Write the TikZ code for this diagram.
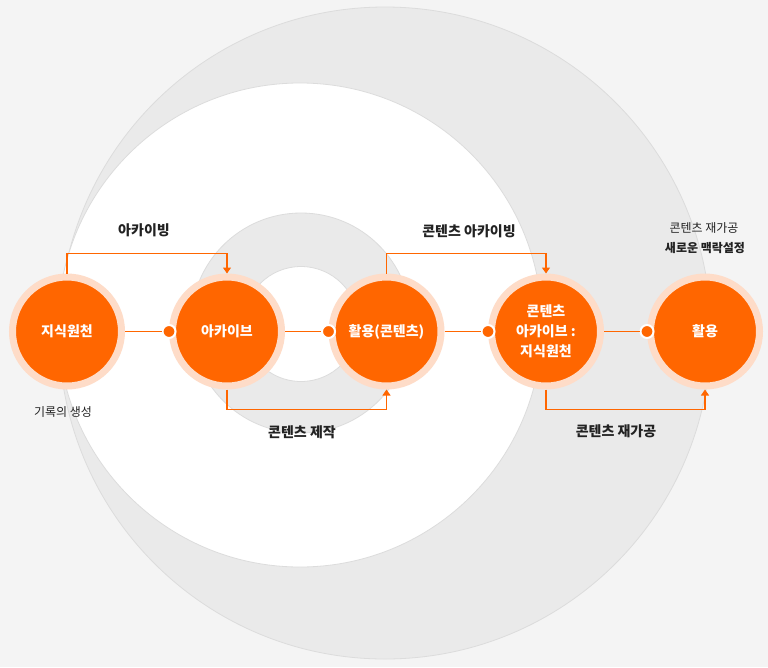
\documentclass[tikz,border=0pt]{standalone}
\usepackage{fontspec}
\setmainfont{Noto Sans CJK KR}
\usetikzlibrary{arrows.meta}
\definecolor{bgc}{HTML}{F4F4F4}
\definecolor{ringc}{HTML}{EAEAEA}
\definecolor{edgec}{HTML}{DCDCDC}
\definecolor{org}{HTML}{FF6600}
\definecolor{peach}{HTML}{FEDCC8}
\definecolor{txt}{HTML}{222222}
\tikzset{
  stage/.style={circle, fill=org, draw=peach, line width=7pt, minimum size=109pt, inner sep=0pt,
    text=white, align=center, font=\fontsize{14}{20}\selectfont\bfseries},
  joint/.style={circle, fill=org, draw=white, line width=2pt, minimum size=13pt, inner sep=0pt},
  link/.style={draw=org, line width=1.1pt},
  flow/.style={draw=org, line width=1.1pt, -{Triangle[width=8pt,length=6pt]}},
  biglabel/.style={text=txt, font=\fontsize{14}{18}\selectfont\bfseries},
  smalllabel/.style={text=txt, font=\fontsize{12}{20}\selectfont},
  smallbold/.style={text=txt, font=\fontsize{12}{20}\selectfont\bfseries}
}
\begin{document}
\begin{tikzpicture}[x=1pt,y=-1pt]
\useasboundingbox (0,0) rectangle (768,667);
\fill[bgc] (0,0) rectangle (768,667);
% background circles
\filldraw[fill=ringc, draw=edgec, line width=0.8pt] (385,333) circle[radius=326pt];
\filldraw[fill=white, draw=edgec, line width=0.8pt] (300,325) circle[radius=242pt];
\filldraw[fill=ringc, draw=edgec, line width=0.8pt] (301,323) circle[radius=110pt];
\filldraw[fill=white, draw=edgec, line width=0.8pt] (301,324) circle[radius=57.5pt];
% stages
\node[stage] (s1) at (67,331.5) {지식원천};
\node[stage] (s2) at (227,331.5) {아카이브};
\node[stage] (s3) at (386.5,331.5) {활용(콘텐츠)};
\node[stage] (s4) at (546,331.5) {콘텐츠\\아카이브 :\\지식원천};
\node[stage] (s5) at (705,331.5) {활용};
% horizontal links with joints
\foreach \a/\b [count=\i] in {s1/s2,s2/s3,s3/s4,s4/s5}{
  \node[joint] (j\i) at (\b.west) {};
  \draw[link] (\a.east) -- (j\i);
}
% upper arrows
\draw[flow] (s1.north) -- ++(0,-20) -| (s2.north);
\draw[flow] (s3.north) -- ++(0,-20) -| (s4.north);
% lower arrows
\draw[flow] (s2.south) -- ++(0,20) -| (s3.south);
\draw[flow] (s4.south) -- ++(0,20) -| (s5.south);
% labels
\node[biglabel] (l1) at (144,230) {아카이빙};
\node[biglabel] (l2) at (469,231) {콘텐츠 아카이빙};
\node[smalllabel] (l3) at (704,228) {콘텐츠 재가공};
\node[smallbold] (l4) at (705,248) {새로운 맥락설정};
\node[smalllabel] (l5) at (63,412) {기록의 생성};
\node[biglabel] (l6) at (302,432) {콘텐츠 제작};
\node[biglabel] (l7) at (616,431) {콘텐츠 재가공};
\end{tikzpicture}
\end{document}
